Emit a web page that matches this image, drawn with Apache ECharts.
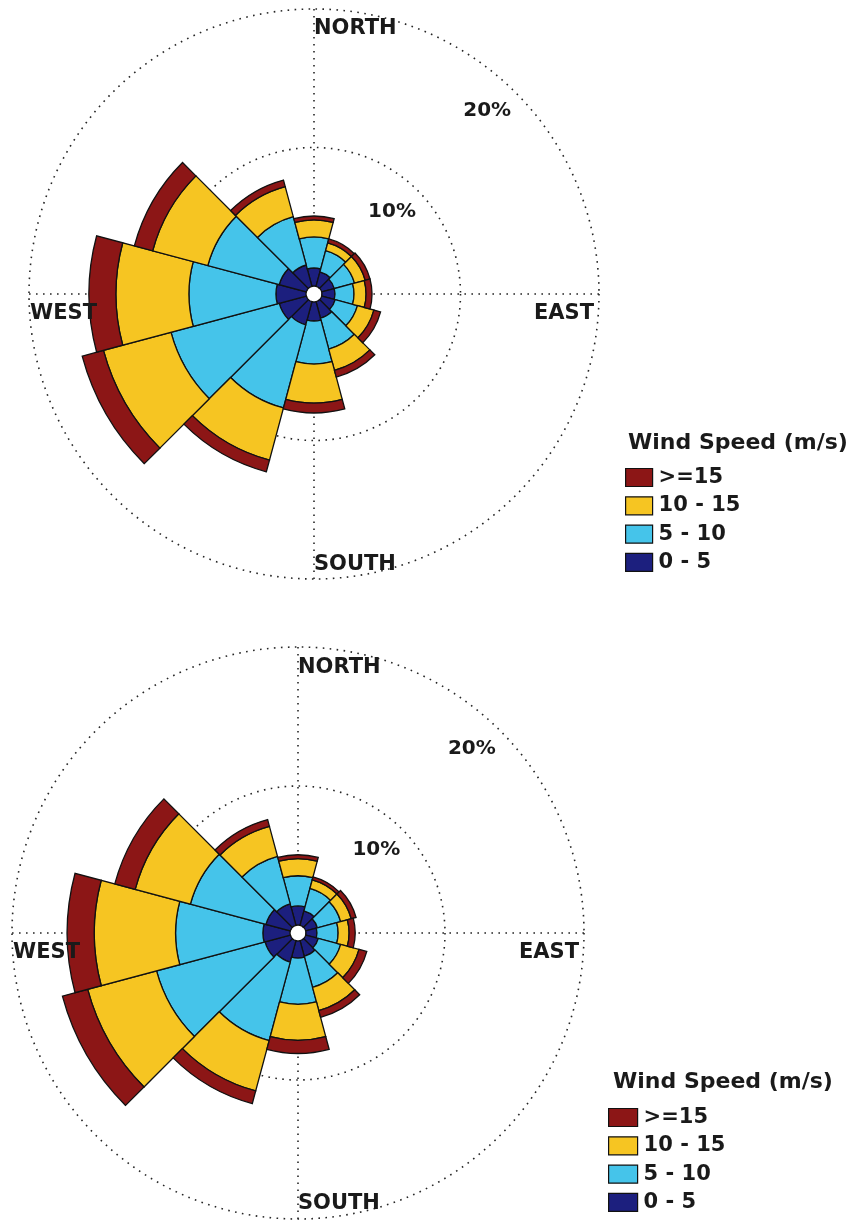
<!DOCTYPE html>
<html>
<head>
<meta charset="utf-8">
<script src="https://cdn.jsdelivr.net/npm/echarts@6/dist/echarts.min.js"></script>
<style>
  html, body { margin: 0; padding: 0; background: #ffffff; }
  #chart { width: 851px; height: 1220px; }
</style>
</head>
<body>
<div id="chart"></div>
<script>
// Wind direction sectors (degrees clockwise from north), 30° each
const directions = ['0', '30', '60', '90', '120', '150', '180', '210', '240', '270', '300', '330'];

// Speed classes, lowest first (stacking order from the centre outwards)
const speedClasses = ['0 - 5', '5 - 10', '10 - 15', '>=15'];
const legendOrder = ['>=15', '10 - 15', '5 - 10', '0 - 5'];

// Frequency (% of observations) per sector — first rose
const roseA_0to5   = [1.30, 1.08, 0.94, 0.94, 1.01, 1.23, 1.37, 1.73, 2.02, 2.17, 2.02, 1.59];
const roseA_5to10  = [2.24, 1.59, 1.51, 1.37, 1.66, 2.31, 3.11, 6.21, 8.09, 6.28, 5.34, 3.61];
const roseA_10to15 = [1.23, 0.58, 0.80, 0.87, 1.23, 1.59, 2.81, 3.90, 5.05, 5.27, 4.12, 2.24];
const roseA_15up   = [0.28, 0.29, 0.36, 0.43, 0.50, 0.50, 0.72, 0.87, 1.59, 1.95, 1.37, 0.50];

// Frequency (% of observations) per sector — second rose
const roseB_0to5   = [1.37, 1.08, 0.87, 0.79, 0.94, 1.16, 1.23, 1.59, 1.88, 1.95, 1.81, 1.59];
const roseB_5to10  = [2.17, 1.66, 1.73, 1.52, 1.66, 2.31, 3.32, 5.85, 8.08, 6.28, 5.63, 3.54];
const roseB_10to15 = [1.23, 0.65, 0.79, 0.79, 1.37, 1.73, 2.60, 3.75, 5.13, 5.85, 4.11, 2.23];
const roseB_15up   = [0.28, 0.22, 0.36, 0.44, 0.58, 0.50, 0.94, 0.94, 1.88, 1.95, 1.52, 0.51];

// Radial rings and their labels
const ringValues = [10, 20];
const ringLabels = ['10%', '20%'];
const compassLabels = ['NORTH', 'EAST', 'SOUTH', 'WEST'];
const legendTitle = 'Wind Speed (m/s)';

const classColors = {
  '0 - 5':   '#1c1f7e',
  '5 - 10':  '#45c4ea',
  '10 - 15': '#f6c522',
  '>=15':    '#8c1616'
};

const RADIAL_MAX = 20;
const FONT = '"DejaVu Sans", "Liberation Sans", sans-serif';

// Layout of the two roses
const roses = [
  {
    data: [roseA_0to5, roseA_5to10, roseA_10to15, roseA_15up],
    center: [314, 294], radius: [8, 285],
    legend: { left: 625, top: 467, w: 27, h: 18 },
    title: { x: 628, y: 443 }
  },
  {
    data: [roseB_0to5, roseB_5to10, roseB_10to15, roseB_15up],
    center: [298, 933], radius: [8, 286],
    legend: { left: 608, top: 1107, w: 29, h: 18 },
    title: { x: 613, y: 1082 }
  }
];

const dotted = { color: '#262626', width: 1.6, type: [1.6, 5.4] };

const option = {
  backgroundColor: '#ffffff',
  animation: false,
  polar: [],
  angleAxis: [],
  radiusAxis: [],
  legend: [],
  series: [],
  graphic: []
};

function ringRadius(rose, v) {
  const [r0, r1] = rose.radius;
  return r0 + (r1 - r0) * v / RADIAL_MAX;
}

roses.forEach((rose, k) => {
  const gridIdx = k * 2;
  const barIdx = k * 2 + 1;

  // grid polar: dotted rings and the four compass lines
  option.polar.push({ center: rose.center, radius: rose.radius });
  option.angleAxis.push({
    polarIndex: gridIdx, type: 'value', min: 0, max: 360, interval: 90,
    startAngle: 90, clockwise: true,
    axisLine: { show: false }, axisTick: { show: false }, axisLabel: { show: false },
    splitLine: { show: true, lineStyle: dotted }
  });
  option.radiusAxis.push({
    polarIndex: gridIdx, type: 'value', min: 0, max: RADIAL_MAX, interval: 10,
    axisLine: { show: false }, axisTick: { show: false }, axisLabel: { show: false },
    splitLine: { show: true, lineStyle: dotted }
  });

  // bar polar: one 30° sector per direction, north centred at the top
  option.polar.push({ center: rose.center, radius: rose.radius });
  option.angleAxis.push({
    polarIndex: barIdx, type: 'category', data: directions,
    startAngle: 105, clockwise: true, boundaryGap: true,
    axisLine: { show: false }, axisTick: { show: false }, axisLabel: { show: false },
    splitLine: { show: false }
  });
  option.radiusAxis.push({
    polarIndex: barIdx, type: 'value', min: 0, max: RADIAL_MAX,
    axisLine: { show: false }, axisTick: { show: false }, axisLabel: { show: false },
    splitLine: { show: false }
  });

  speedClasses.forEach((name, i) => {
    option.series.push({
      type: 'bar',
      name: name,
      coordinateSystem: 'polar',
      polarIndex: barIdx,
      stack: 'rose' + k,
      barCategoryGap: '0%',
      data: rose.data[i],
      itemStyle: { color: classColors[name], borderColor: '#111111', borderWidth: 1.3 },
      emphasis: { disabled: true },
      z: 3
    });
  });

  option.legend.push({
    orient: 'vertical',
    left: rose.legend.left,
    top: rose.legend.top,
    height: 130,
    padding: 0,
    data: legendOrder,
    itemWidth: rose.legend.w,
    itemHeight: rose.legend.h,
    itemGap: 7.3,
    icon: 'rect',
    selectedMode: false,
    itemStyle: { borderColor: '#111111', borderWidth: 1.2 },
    textStyle: {
      fontFamily: FONT, fontWeight: 'bold', fontSize: 21, color: '#1a1a1a',
      padding: [0, 0, 0, 1]
    }
  });

  // text: compass labels, ring labels, legend title
  const [cx, cy] = rose.center;
  const R = rose.radius[1];
  const text = (str, x, y, align, size) => ({
    type: 'text', x: x, y: y, z: 100, silent: true,
    style: {
      text: str, fill: '#1a1a1a',
      font: 'bold ' + size + 'px ' + FONT,
      align: align, verticalAlign: 'middle',
      textAlign: align, textVerticalAlign: 'middle'
    }
  });
  option.graphic.push(text(compassLabels[0], cx, cy - 265.5, 'left', 21));
  option.graphic.push(text(compassLabels[1], cx + R - 5, cy + 20, 'right', 21));
  option.graphic.push(text(compassLabels[2], cx, cy + 271, 'left', 21));
  option.graphic.push(text(compassLabels[3], cx - R + 1, cy + 20, 'left', 21));

  const labelAngle = 43.4 * Math.PI / 180;
  ringValues.forEach((v, i) => {
    const r = ringRadius(rose, v) - 33;
    option.graphic.push(text(ringLabels[i], cx + r * Math.sin(labelAngle), cy - r * Math.cos(labelAngle), 'center', 20));
  });

  option.graphic.push(text(legendTitle, rose.title.x, rose.title.y, 'left', 22));
});

const chart = echarts.init(document.getElementById('chart'), null, { renderer: 'canvas' });
chart.setOption(option);
</script>
</body>
</html>
